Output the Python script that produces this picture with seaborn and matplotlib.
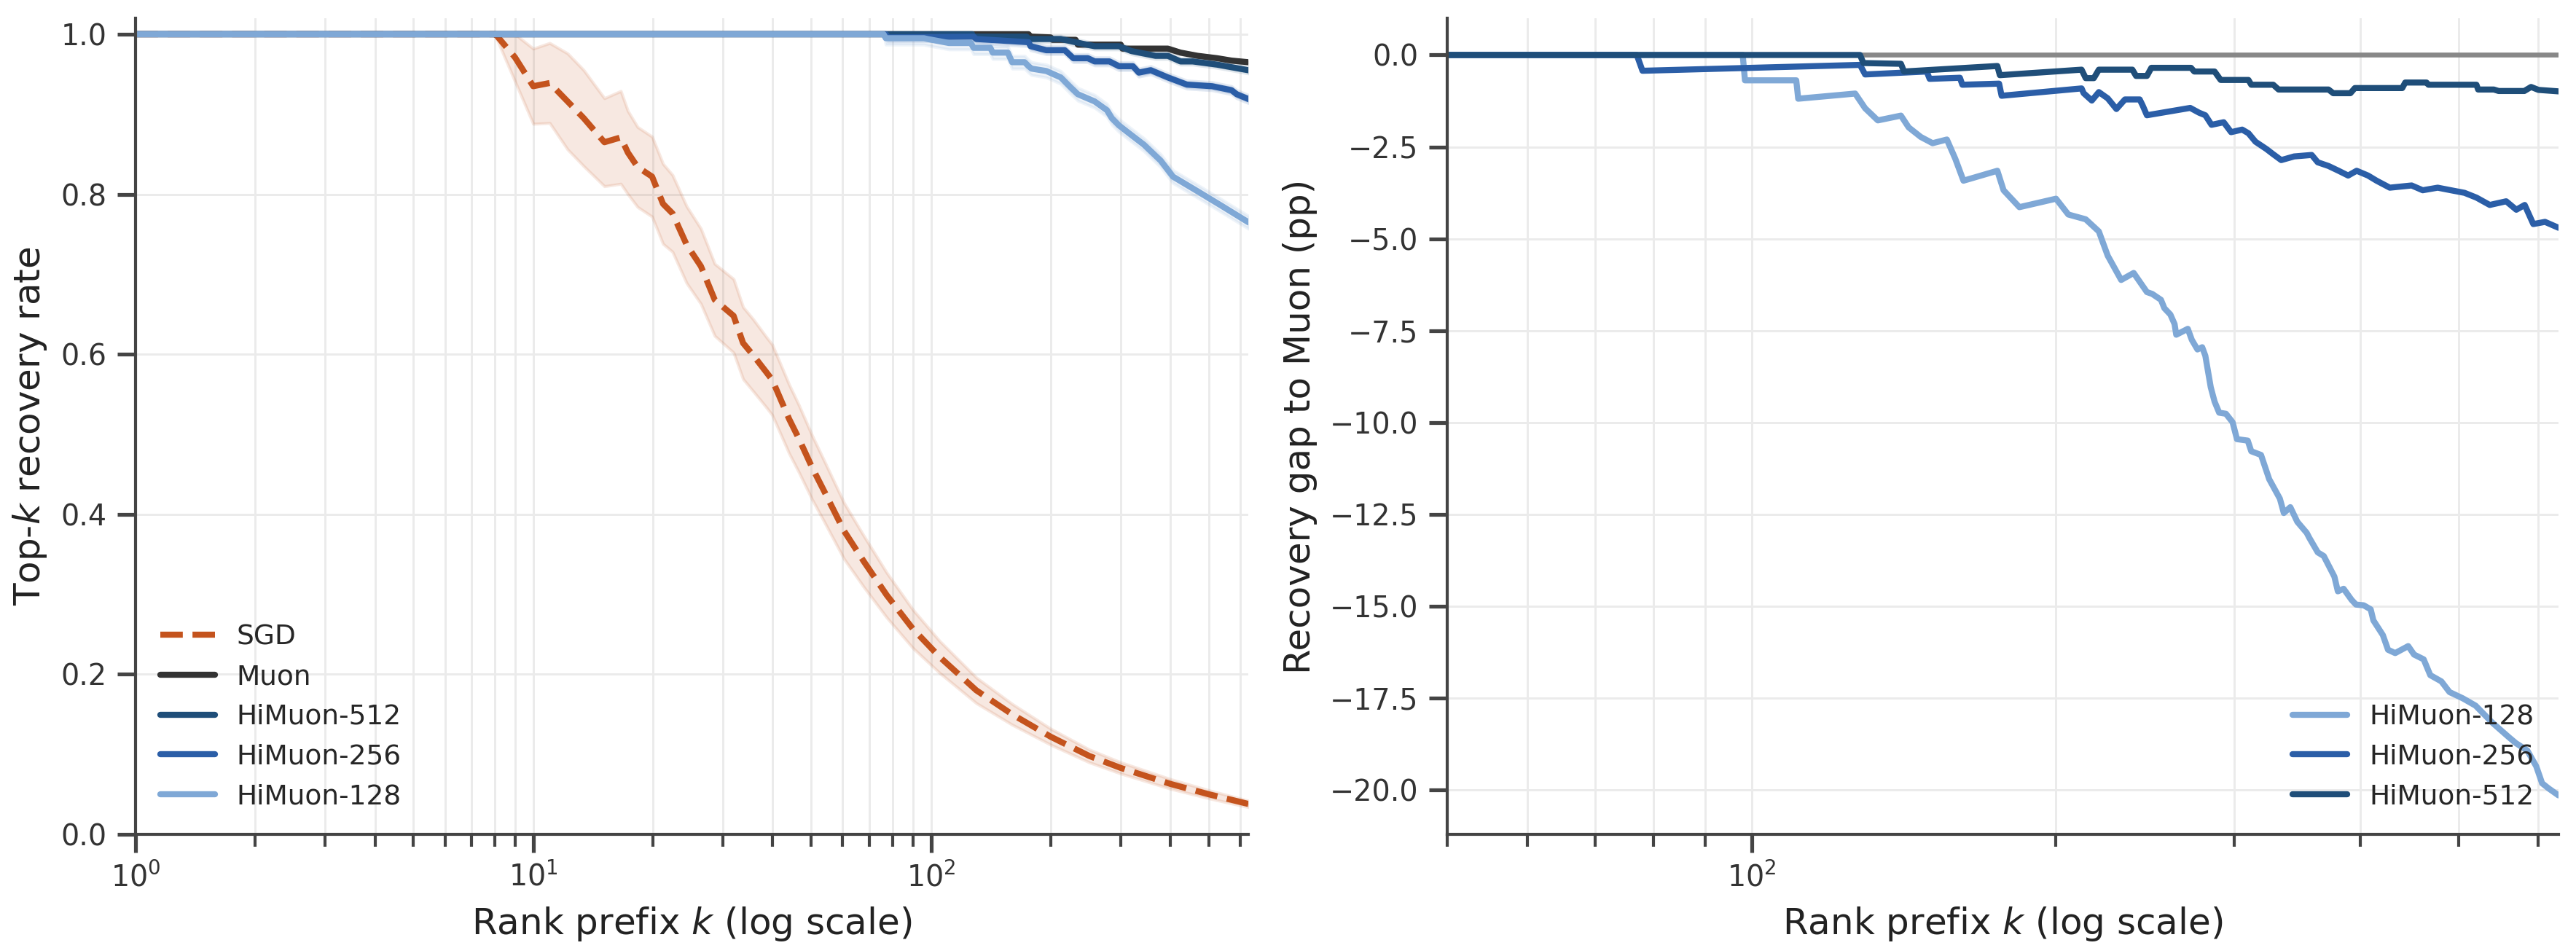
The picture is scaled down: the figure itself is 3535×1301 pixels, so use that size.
import numpy as np
import matplotlib
matplotlib.use("Agg")
import matplotlib.pyplot as plt
from matplotlib.ticker import MultipleLocator, NullFormatter
import seaborn as sns

# ---- left panel: top-k recovery rate ----
sgd_k = [1, 8, 8.1, 9, 10, 11, 12.2, 13.4, 15.1, 16.6, 17.3, 18.3, 19.9, 21.2, 22.4,
         24.3, 26.4, 28.6, 31.9, 33.7, 35.7, 38.5, 39.9, 44, 46.5, 50.2, 54, 60.5, 67.8,
         77.4, 90, 105, 130, 160, 200, 250, 300, 400, 500, 628]
sgd_rate = [1.0, 1.0, 0.998, 0.971, 0.935, 0.939, 0.916, 0.895, 0.865, 0.871, 0.852,
            0.834, 0.822, 0.788, 0.776, 0.737, 0.710, 0.668, 0.648, 0.614, 0.599, 0.578,
            0.568, 0.519, 0.495, 0.459, 0.428, 0.379, 0.341, 0.299, 0.257, 0.222, 0.180,
            0.150, 0.122, 0.098, 0.083, 0.063, 0.050, 0.038]
sgd_spread = [0, 0, 0.004, 0.03, 0.047, 0.05, 0.06, 0.06, 0.055, 0.058, 0.052, 0.05,
              0.05, 0.05, 0.048, 0.048, 0.047, 0.045, 0.046, 0.045, 0.045, 0.044, 0.044,
              0.043, 0.042, 0.04, 0.038, 0.035, 0.032, 0.028, 0.024, 0.02, 0.016, 0.013,
              0.01, 0.008, 0.007, 0.006, 0.005, 0.004]

muon_k = [1, 176, 178, 200, 202, 231, 234, 300, 303, 394, 424, 468, 524, 570, 628]
muon_rate = [1.0, 1.0, 0.997, 0.996, 0.993, 0.993, 0.987, 0.987, 0.982, 0.982, 0.977,
             0.973, 0.970, 0.967, 0.965]

h512_k = [1, 127, 128, 174, 176, 212, 241, 258, 297, 319, 367, 394, 424, 455, 524, 628]
h512_rate = [1.0, 1.0, 0.997, 0.997, 0.994, 0.994, 0.988, 0.985, 0.985, 0.979, 0.973,
             0.973, 0.966, 0.966, 0.962, 0.955]

h256_k = [1, 77, 78, 128, 130, 176, 178, 195, 217, 228, 248, 258, 281, 297, 322, 333,
          357, 394, 440, 509, 570, 587, 628]
h256_rate = [1.0, 1.0, 0.996, 0.997, 0.994, 0.990, 0.985, 0.980, 0.980, 0.970, 0.970,
             0.966, 0.966, 0.960, 0.960, 0.952, 0.955, 0.946, 0.937, 0.935, 0.930, 0.925,
             0.919]

h128_k = [1, 76, 77, 96, 98, 111, 126, 128, 141, 143, 156, 160, 172, 176, 179, 195, 212,
          224, 234, 258, 277, 285, 297, 319, 343, 378, 406, 467, 536, 628]
h128_rate = [1.0, 1.0, 0.995, 0.995, 0.994, 0.989, 0.989, 0.983, 0.983, 0.977, 0.977,
             0.965, 0.965, 0.960, 0.957, 0.954, 0.946, 0.934, 0.925, 0.916, 0.905, 0.895,
             0.886, 0.874, 0.862, 0.842, 0.822, 0.804, 0.786, 0.765]

# ---- right panel: recovery gap to Muon in percentage points ----
g512_k = [50, 128, 129, 140.5, 141.5, 175, 176, 212, 214, 218, 220.5, 238, 240, 246,
          248.5, 272, 274, 287, 291, 310, 312, 328, 332, 372, 376, 391, 395, 440, 443,
          465, 467, 521, 523, 542, 548, 581, 590, 600, 628]
g512_gap = [0, 0, -0.22, -0.24, -0.45, -0.30, -0.55, -0.40, -0.63, -0.63, -0.40, -0.40,
            -0.57, -0.57, -0.35, -0.35, -0.45, -0.45, -0.68, -0.68, -0.81, -0.81, -0.94,
            -0.94, -1.04, -1.04, -0.90, -0.90, -0.75, -0.75, -0.81, -0.81, -0.94, -0.94,
            -0.98, -0.98, -0.87, -0.95, -0.99]

g256_k = [50, 77, 78, 128, 129.5, 149, 150, 160.7, 161.6, 175.7, 176.7, 212, 213, 217,
          220.5, 225, 229.5, 234, 242, 243.6, 246, 271.5, 277, 281, 285, 293, 298, 305.6,
          310, 315, 323, 327.6, 334, 344, 358, 363, 372, 380.6, 389, 396.6, 407, 415,
          427.7, 449.5, 461, 477, 491.6, 507, 521, 537, 557.5, 570.5, 581.5, 593, 609, 628]
g256_gap = [0, 0, -0.43, -0.27, -0.53, -0.45, -0.65, -0.62, -0.81, -0.78, -1.11, -0.91,
            -1.04, -1.24, -1.01, -1.18, -1.47, -1.21, -1.21, -1.37, -1.64, -1.44, -1.57,
            -1.64, -1.90, -1.83, -2.10, -2.03, -2.13, -2.36, -2.56, -2.69, -2.86, -2.76,
            -2.72, -2.92, -3.02, -3.15, -3.28, -3.15, -3.28, -3.42, -3.61, -3.55, -3.68,
            -3.61, -3.68, -3.75, -3.88, -4.08, -3.98, -4.21, -4.08, -4.60, -4.54, -4.70]

g128_k = [50, 98, 98.5, 110.7, 111.2, 126.6, 129.5, 133.3, 140.5, 143, 147, 151, 156,
          159, 162, 175, 177.5, 184, 200, 205.7, 214, 220.5, 225, 232, 238.7, 246, 249,
          254, 256, 259.5, 262, 263, 270, 272.5, 276, 279, 281, 284.5, 287, 290, 294.5,
          299, 302, 309.5, 312, 319, 325, 333, 336, 341, 346.5, 354, 356, 363, 368, 377,
          380, 385, 392, 396, 403, 409.5, 412, 421, 426, 433, 446, 452, 462, 469, 481,
          490, 505, 520, 540, 561, 570, 585, 597, 605, 614, 628]
g128_gap = [0, 0, -0.69, -0.69, -1.19, -1.05, -1.45, -1.78, -1.65, -1.97, -2.23, -2.40,
            -2.30, -2.82, -3.42, -3.15, -3.68, -4.14, -3.91, -4.34, -4.47, -4.80, -5.46,
            -6.12, -5.93, -6.45, -6.50, -6.66, -6.89, -7.06, -7.32, -7.61, -7.45, -7.75,
            -8.01, -7.95, -8.18, -9.04, -9.43, -9.73, -9.76, -9.99, -10.45, -10.49, -10.78,
            -10.88, -11.54, -12.07, -12.46, -12.30, -12.70, -13.00, -13.13, -13.53, -13.63,
            -14.19, -14.59, -14.52, -14.82, -14.95, -14.97, -15.08, -15.38, -15.78, -16.18,
            -16.27, -16.08, -16.31, -16.44, -16.87, -17.04, -17.33, -17.50, -17.70, -18.16,
            -18.56, -18.72, -18.92, -19.35, -19.81, -19.95, -20.14]

K_MAX = 628

COLORS = {
    "SGD": "#c4531d",
    "Muon": "#333333",
    "HiMuon-512": "#1f4e79",
    "HiMuon-256": "#2b5ea7",
    "HiMuon-128": "#7fa8d6",
}
BAND = {"Muon": 0.002, "HiMuon-512": 0.004, "HiMuon-256": 0.005, "HiMuon-128": 0.008}

sns.set_theme(style="ticks")
plt.rcParams["font.family"] = ["DejaVu Sans"]
plt.rcParams["xtick.labelsize"] = 9.5
plt.rcParams["ytick.labelsize"] = 9.5
plt.rcParams["axes.edgecolor"] = "#444444"
plt.rcParams["axes.linewidth"] = 1.0
plt.rcParams["xtick.color"] = "#444444"
plt.rcParams["ytick.color"] = "#444444"
plt.rcParams["xtick.labelcolor"] = "#333333"
plt.rcParams["ytick.labelcolor"] = "#333333"
plt.rcParams["axes.labelcolor"] = "#222222"

fig = plt.figure(figsize=(3535 / 300, 1301 / 300), dpi=300)
ax1 = fig.add_axes([0.0526, 0.1199, 0.4320, 0.8609])
ax2 = fig.add_axes([0.5618, 0.1199, 0.4314, 0.8609])

# left panel
k = np.array(sgd_k)
r = np.array(sgd_rate)
s = np.array(sgd_spread)
ax1.fill_between(k, r - s, np.minimum(r + s, 1.0), color=COLORS["SGD"], alpha=0.13, lw=1)
sns.lineplot(x=k, y=r, ax=ax1, color=COLORS["SGD"], lw=2.0, linestyle="--",
             label="SGD", estimator=None, sort=False)

for name, kk, rr in [("Muon", muon_k, muon_rate),
                     ("HiMuon-512", h512_k, h512_rate),
                     ("HiMuon-256", h256_k, h256_rate),
                     ("HiMuon-128", h128_k, h128_rate)]:
    kk = np.array(kk)
    rr = np.array(rr)
    band = np.where(rr < 1.0, BAND[name], 0.0)
    ax1.fill_between(kk, rr - band, np.minimum(rr + band, 1.0),
                     color=COLORS[name], alpha=0.13, lw=1)
    sns.lineplot(x=kk, y=rr, ax=ax1, color=COLORS[name], lw=2.0, label=name,
                 estimator=None, sort=False)

ax1.set_xscale("log")
ax1.set_xlim(1, K_MAX)
ax1.set_ylim(0, 1.02)
ax1.yaxis.set_major_locator(MultipleLocator(0.2))
ax1.set_xlabel("Rank prefix $k$ (log scale)", fontsize=12)
ax1.set_ylabel("Top-$k$ recovery rate", fontsize=12)
ax1.legend(loc="lower left", frameon=False, fontsize=9)

# right panel
ax2.axhline(0, color="#888888", lw=1.6, zorder=1)
for name, kk, gg in [("HiMuon-128", g128_k, g128_gap),
                     ("HiMuon-256", g256_k, g256_gap),
                     ("HiMuon-512", g512_k, g512_gap)]:
    sns.lineplot(x=np.array(kk), y=np.array(gg), ax=ax2, color=COLORS[name], lw=2.0,
                 label=name, estimator=None, sort=False)

ax2.set_xscale("log")
ax2.set_xlim(50, K_MAX)
ax2.set_ylim(-21.2, 1.0)
ax2.yaxis.set_major_locator(MultipleLocator(2.5))
ax2.xaxis.set_minor_formatter(NullFormatter())
ax2.set_xlabel("Rank prefix $k$ (log scale)", fontsize=12)
ax2.set_ylabel("Recovery gap to Muon (pp)", fontsize=12)
ax2.legend(loc="lower right", frameon=False, fontsize=9)

for ax in (ax1, ax2):
    ax.grid(True, which="major", color="#ebebeb", lw=0.7)
    ax.grid(True, which="minor", axis="x", color="#ebebeb", lw=0.7)
    ax.set_axisbelow(True)
    sns.despine(ax=ax)

fig.savefig("out.png", dpi=300)
